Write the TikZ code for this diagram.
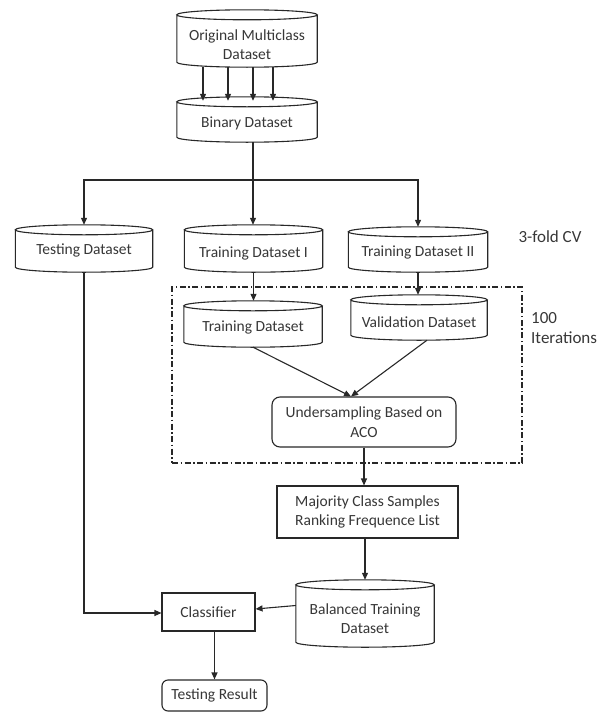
\documentclass[tikz,border=0pt]{standalone}
\usepackage{fontspec}
\setmainfont{Carlito}
\usetikzlibrary{arrows.meta,calc}
\newcommand\drumoutline[1]{%
  \path[draw=linec, line width=1.1pt, fill=white] let \p1=(#1.north west), \p2=(#1.south east), \n1={(\x2-\x1)/2} in
    ({\x1},{\y1-5pt}) -- ({\x1},{\y2+5pt}) arc[start angle=180,end angle=360,x radius={\n1*1pt},y radius=5pt] -- ({\x2},{\y1-5pt})
    ({(\x1+\x2)/2},{\y1-5pt}) ellipse[x radius={\n1*1pt},y radius=5pt];
}
\definecolor{linec}{RGB}{40,40,40}
\definecolor{textc}{RGB}{55,55,55}
\begin{document}
\begin{tikzpicture}[x=1pt,y=1pt,
  every node/.style={font=\fontsize{15.5}{19.5}\selectfont, text=textc, inner sep=0pt, align=center},
  drum/.style={minimum width=#1, draw=none},
  boxn/.style={draw=linec, line width=1.1pt, fill=white},
  arr/.style={draw=linec, line width=1.1pt, -{Triangle[length=7pt,width=6pt]}},
  dashbox/.style={draw=linec, line width=1.1pt, dash pattern=on 6pt off 2.5pt on 1.5pt off 2.5pt},
  side/.style={font=\fontsize{17}{20}\selectfont, text=textc}]
\useasboundingbox (0,0) rectangle (603,-712);

% dashed iteration box
\node[dashbox, minimum width=350pt, minimum height=176pt] (iter) at (347,-375) {};

% drums
\node[drum=140pt, minimum height=57pt] (orig) at (247,-38.5) {};
\node[drum=140pt, minimum height=45pt] (binary) at (247,-119.5) {};
\node[drum=137pt, minimum height=47pt] (testing) at (84,-248.5) {};
\node[drum=138pt, minimum height=47pt] (trainI) at (253.5,-248.5) {};
\node[drum=139pt, minimum height=45pt] (trainII) at (418,-249.5) {};
\node[drum=138pt, minimum height=46pt] (trainD) at (253,-324) {};
\node[drum=136pt, minimum height=45pt] (valid) at (419,-317.5) {};
\node[drum=138pt, minimum height=67pt] (balanced) at (365,-613.5) {};
\foreach \nm in {orig,binary,testing,trainI,trainII,trainD,valid,balanced} {\drumoutline{\nm}}

% drum texts (placed on the drum nodes' bodies)
\path (orig.center) ++(0,-6) node {Original Multiclass\\Dataset};
\path (binary.center) ++(0,-3.5) node {Binary Dataset};
\path (testing.center) ++(0,-2) node {Testing Dataset};
\path (trainI.center) ++(0,-5) node {Training Dataset I};
\path (trainII.center) ++(0,-2.5) node {Training Dataset II};
\path (trainD.center) ++(0,-3) node {Training Dataset};
\path (valid.center) ++(0,-4.5) node {Validation Dataset};
\path (balanced.center) ++(0,-5) node {Balanced Training\\Dataset};

% boxes
\node[boxn, rounded corners=8pt, minimum width=184pt, minimum height=50pt] (under) at (364,-422) {Undersampling Based on\\ACO};
\node[boxn, minimum width=181pt, minimum height=52pt] (major) at (367.5,-512) {Majority Class Samples\\Ranking Frequence List};
\node[boxn, minimum width=93pt, minimum height=38pt] (classifier) at (208.5,-612) {Classifier};
\node[boxn, rounded corners=6pt, minimum width=105pt, minimum height=31pt] (result) at (214.5,-695.5) {Testing Result};

% side labels
\node[side] (cv) at (550,-237) {3-fold CV};
\node[side, anchor=west, align=left] (iters) at (531,-328) {100\\Iterations};

% connectors
\coordinate (split) at (253,-180);
\foreach \x in {203,228,253,273} {\draw[arr] (orig.south -| \x,0) -- ([yshift=-4pt]binary.north -| \x,0);}
\draw[arr] (binary.south -| split) -- (split) -- (trainI.north -| split);
\draw[arr] (split) -| (testing.north);
\draw[arr] (split) -| (trainII.north);
\draw[arr] (trainI.south) -- (trainI.south |- trainD.north);
\draw[arr] (trainII.south) -- (trainII.south |- valid.north);
\draw[arr] (trainD.south) -- ([xshift=-13pt]under.north);
\draw[arr] ([xshift=8pt]valid.south) -- ([xshift=-13pt]under.north);
\draw[arr] (under.south) -- (under.south |- major.north);
\draw[arr] (major.south -| balanced.north) -- (balanced.north);
\draw[arr] ([yshift=8pt]balanced.west) -- ([yshift=3pt]classifier.east);
\draw[arr] (testing.south) |- ([yshift=-1pt]classifier.west);
\draw[arr] (classifier.south -| result.north) -- (result.north);
\end{tikzpicture}
\end{document}
